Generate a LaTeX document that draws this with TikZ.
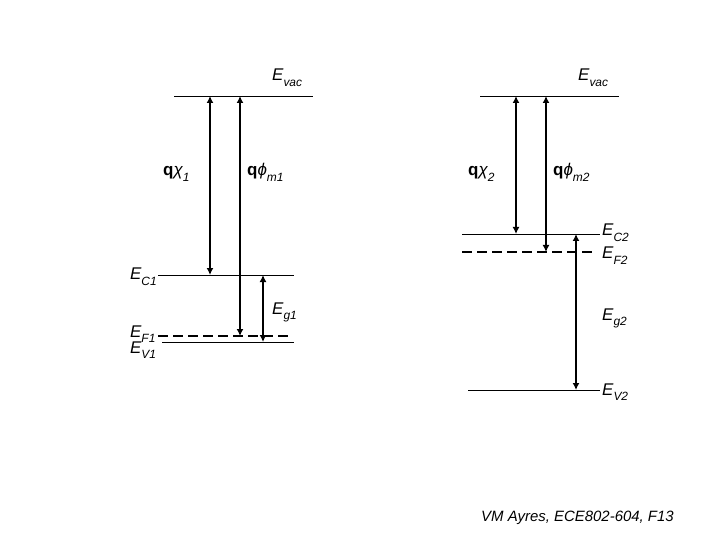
\documentclass[tikz,border=0pt]{standalone}
\usepackage{fontspec}
\setmainfont{Liberation Sans}
\usepackage{tikz}
\usetikzlibrary{arrows.meta, positioning, calc}
\definecolor{mydark}{RGB}{0,0,0}
\newcommand{\lsub}[1]{\raisebox{-0.3em}{\fontsize{12}{12}\selectfont\itshape #1}}
\newcommand{\elev}[1]{\itshape E\lsub{#1}}
\tikzset{
  level/.style={color=mydark, line width=0.9pt},
  fermi/.style={color=mydark, line width=3pt, dash pattern=on 10bp off 5bp},
  barrow/.style={{Latex[length=7bp,width=7bp]}-{Latex[length=7bp,width=7bp]}, line width=2pt, color=mydark},
  lbl/.style={anchor=base west, inner sep=0pt, font=\fontsize{17}{17}\selectfont},
  foot/.style={anchor=base west, inner sep=0pt, font=\fontsize{15}{15}\selectfont\itshape}
}

\begin{document}
\begin{tikzpicture}[x=1bp, y=-1bp]
  \useasboundingbox (0,0) rectangle (720,540);

  % Material 1 (left)
  \coordinate (vacAa) at (174,96);  \coordinate (vacAb) at (313,96);
  \coordinate (ecAa) at (158,275);  \coordinate (ecAb) at (294,275);
  \coordinate (efAa) at (158,336);  \coordinate (efAb) at (291,336);
  \coordinate (evAa) at (162,342);  \coordinate (evAb) at (294,342);
  \draw[level] (vacAa) -- (vacAb);
  \draw[level] (ecAa) -- (ecAb);
  \draw[fermi] (efAa) -- (efAb);
  \draw[level] (evAa) -- (evAb);

  \coordinate (chiAtop) at (210,96);  \coordinate (chiAbot) at (210,275);
  \coordinate (phiAtop) at (240,96);  \coordinate (phiAbot) at (240,336);
  \coordinate (egAtop) at (263,275);  \coordinate (egAbot) at (263,342);
  \draw[barrow] (chiAtop) -- (chiAbot);
  \draw[barrow] (phiAtop) -- (phiAbot);
  \draw[barrow] (egAtop) -- (egAbot);

  \node[lbl] (vacA) at (272,81) {\elev{vac}};
  \node[lbl] (chiA) at (163,176) {\textbf{q}\itshape χ\lsub{1}};
  \node[lbl] (phiA) at (247,176) {\textbf{q}\itshape ϕ\lsub{m1}};
  \node[lbl] (ecA) at (130,280) {\elev{C1}};
  \node[lbl] (egA) at (272,314) {\elev{g1}};
  \node[lbl] (efA) at (130,337) {\elev{F1}};
  \node[lbl] (evA) at (130,353) {\elev{V1}};

  % Material 2 (right)
  \coordinate (vacBa) at (480,96);  \coordinate (vacBb) at (619,96);
  \coordinate (ecBa) at (462,234);  \coordinate (ecBb) at (600,234);
  \coordinate (efBa) at (462,252);  \coordinate (efBb) at (597,252);
  \coordinate (evBa) at (468,390);  \coordinate (evBb) at (600,390);
  \draw[level] (vacBa) -- (vacBb);
  \draw[level] (ecBa) -- (ecBb);
  \draw[fermi] (efBa) -- (efBb);
  \draw[level] (evBa) -- (evBb);

  \coordinate (chiBtop) at (516,96);  \coordinate (chiBbot) at (516,234);
  \coordinate (phiBtop) at (546,96);  \coordinate (phiBbot) at (546,252);
  \coordinate (egBtop) at (576,234);  \coordinate (egBbot) at (576,390);
  \draw[barrow] (chiBtop) -- (chiBbot);
  \draw[barrow] (phiBtop) -- (phiBbot);
  \draw[barrow] (egBtop) -- (egBbot);

  \node[lbl] (vacB) at (578,81) {\elev{vac}};
  \node[lbl] (chiB) at (468,176) {\textbf{q}\itshape χ\lsub{2}};
  \node[lbl] (phiB) at (553,176) {\textbf{q}\itshape ϕ\lsub{m2}};
  \node[lbl] (ecB) at (602,236) {\elev{C2}};
  \node[lbl] (efB) at (602,259) {\elev{F2}};
  \node[lbl] (egB) at (602,320) {\elev{g2}};
  \node[lbl] (evB) at (602,395) {\elev{V2}};

  \node[foot] (credit) at (481,521) {VM Ayres, ECE802-604, F13};
\end{tikzpicture}
\end{document}
